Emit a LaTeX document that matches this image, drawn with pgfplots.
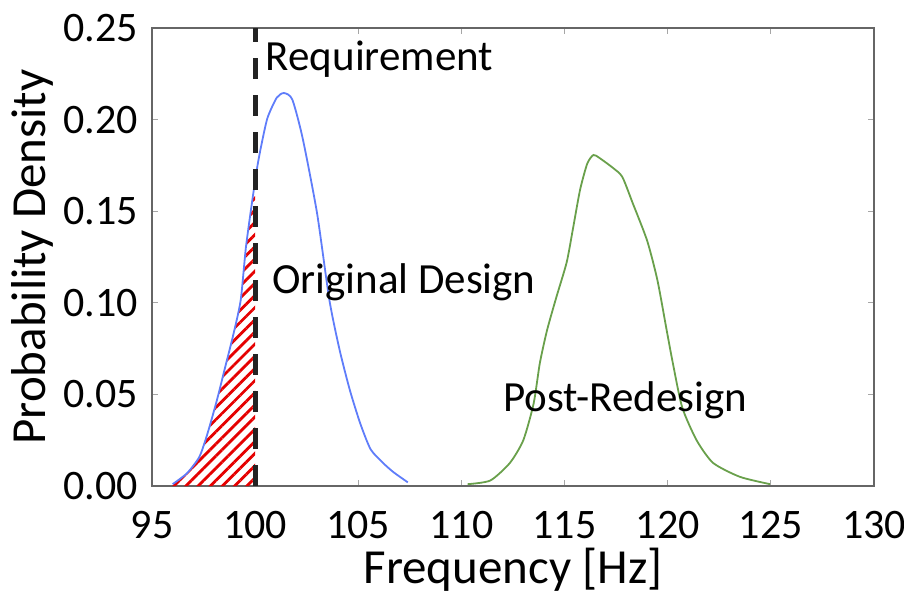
\documentclass[border=0pt]{standalone}
\usepackage{pgfplots}
\pgfplotsset{compat=1.18}
\usepackage{fontspec}
\setmainfont{Carlito}
\usetikzlibrary{patterns.meta}

\definecolor{origblue}{RGB}{95,125,250}
\definecolor{postgreen}{RGB}{105,160,75}
\definecolor{reqblack}{RGB}{35,35,35}

\begin{document}
\begin{tikzpicture}
\begin{axis}[
    name=ax,
    width=361pt, height=229pt, scale only axis,
    xmin=95, xmax=130, ymin=0, ymax=0.25,
    xtick={95,100,...,130},
    ytick={0,0.05,...,0.25},
    yticklabel style={xshift=-3.5pt, /pgf/number format/.cd, fixed, fixed zerofill, precision=2},
    /pgf/number format/assume math mode=true,
    tick label style={font=\fontsize{21}{24}\selectfont},
    label style={font=\fontsize{24.5}{28}\selectfont},
    xlabel={Frequency [Hz]},
    ylabel={Probability Density},
    tick align=inside,
    major tick length=3pt,
    tick style={gray!70, line width=0.6pt},
    axis line style={gray!80!black, line width=0.8pt},
    xticklabel style={yshift=-9pt},
    xlabel style={yshift=2pt},
    ylabel style={yshift=-2pt},
    clip=false,
]

% hatched area of the original design below the requirement
\addplot[draw=none, pattern={Lines[angle=45, distance=4.3pt, line width=1.4pt]}, pattern color=red!90!black] coordinates {
    (96.0,0) (96.0,0.001) (96.7,0.007) (97.3,0.016) (97.7,0.029) (98.15,0.047)
    (98.55,0.065) (98.95,0.083) (99.3,0.1015) (99.55,0.13) (99.85,0.155) (100,0.168) (100,0)
} -- cycle;

% original design
\addplot[origblue, line width=0.9pt, smooth, tension=0.4] coordinates {
    (96.0,0.001) (96.7,0.007) (97.3,0.016) (97.7,0.029) (98.15,0.047)
    (98.55,0.065) (98.95,0.083) (99.3,0.1015) (99.55,0.13) (99.85,0.155) (100.1,0.174)
    (100.3,0.186) (100.6,0.201) (101.05,0.212) (101.4,0.2145) (101.8,0.211)
    (102.3,0.19) (103.0,0.149) (103.6,0.1015) (104.1,0.074) (104.6,0.052)
    (105.1,0.034) (105.6,0.020) (106.2,0.0126) (106.7,0.0076) (107.4,0.002)
};

% post-redesign
\addplot[postgreen, line width=0.9pt, smooth, tension=0.4] coordinates {
    (110.3,0.001) (111.4,0.003) (112.35,0.0126) (113.0,0.025) (113.5,0.045)
    (113.8,0.067) (114.15,0.085) (114.6,0.103) (115.1,0.122) (115.4,0.14)
    (115.75,0.1616) (116.1,0.176) (116.4,0.1807) (116.7,0.179) (117.35,0.1736)
    (117.8,0.1687) (118.3,0.1545) (119.0,0.134) (119.5,0.1124) (119.95,0.085)
    (120.25,0.067) (120.7,0.043) (121.4,0.025) (122.2,0.0126) (123.5,0.005)
    (124.96,0.001)
};

% requirement
\addplot[reqblack, line width=2.6pt, dash pattern=on 10.5pt off 8pt] coordinates {(100,0) (100,0.25)};

\node[anchor=west, font=\fontsize{21.5}{24}\selectfont, inner sep=0pt] at (axis cs:100.5,0.233) {Requirement};
\node[anchor=west, font=\fontsize{21.5}{24}\selectfont, inner sep=0pt] at (axis cs:100.8,0.111) {Original Design};
\node[anchor=west, font=\fontsize{21.5}{24}\selectfont, inner sep=0pt] at (axis cs:112.0,0.047) {Post-Redesign};
\end{axis}
\pgfresetboundingbox
\path ([shift={(-76pt,-56.5pt)}]ax.south west) rectangle ([shift={(15pt,14pt)}]ax.north east);
\end{tikzpicture}
\end{document}
